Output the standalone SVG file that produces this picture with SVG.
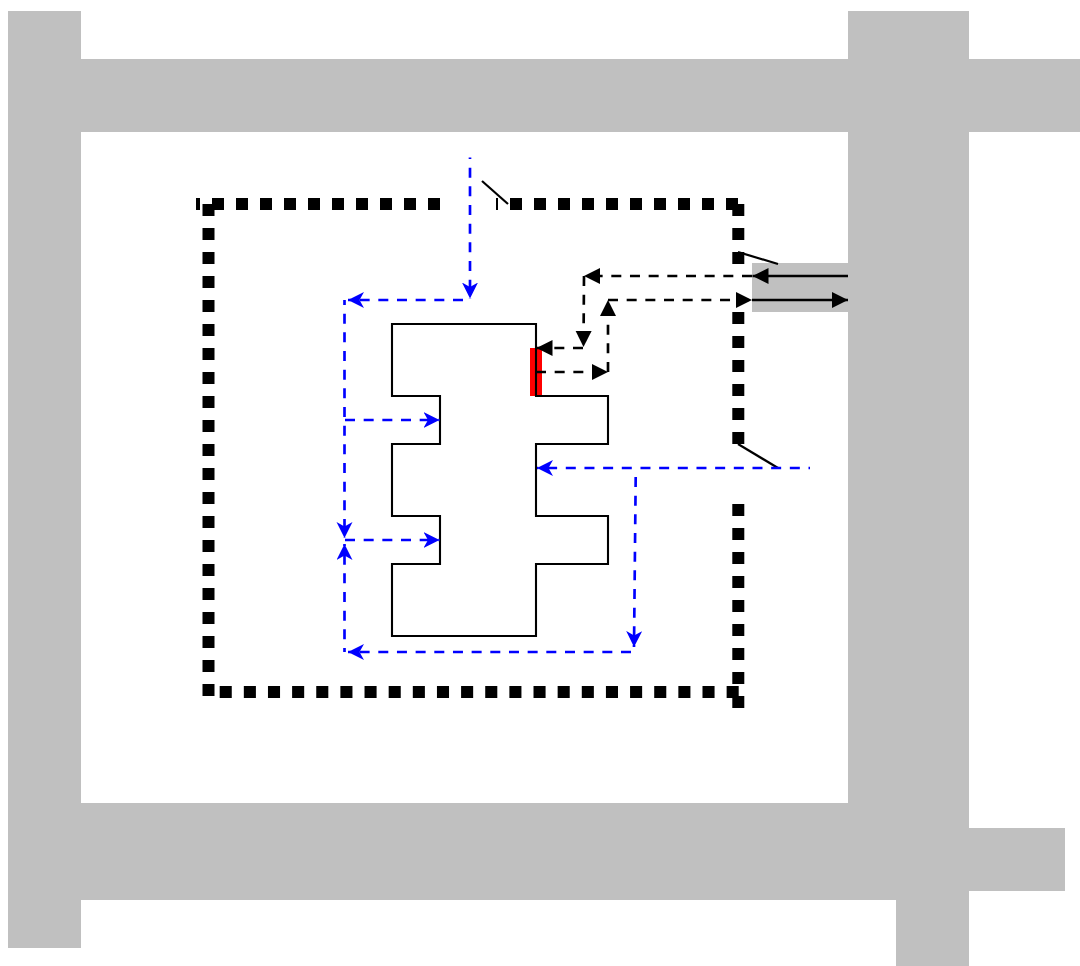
<svg xmlns="http://www.w3.org/2000/svg" width="1080" height="966" viewBox="0 0 1080 966">
<style>
.wall{fill:#c0c0c0;stroke:none}
.zone{fill:none;stroke:#000;stroke-width:12;stroke-dasharray:12 12}
.outline{fill:none;stroke:#000;stroke-width:2.1}
.note{fill:none;stroke:#000;stroke-width:2.2}
.solid{fill:none;stroke:#000;stroke-width:2.67}
.bd{fill:none;stroke:#000;stroke-width:2.67;stroke-dasharray:10 8.67}
.bl{fill:none;stroke:#00f;stroke-width:2.67;stroke-dasharray:10 8.67}
</style>
<defs>
<marker id="blk" markerUnits="userSpaceOnUse" markerWidth="18" markerHeight="18" refX="16" refY="8" orient="auto"><path d="M0 0L16 8L0 16Z" fill="#000"/></marker>
<marker id="blu" markerUnits="userSpaceOnUse" markerWidth="18" markerHeight="18" refX="16" refY="8" orient="auto"><path d="M0 0L16 8L0 16L4.500 8Z" fill="#00f"/></marker>
</defs>
<rect width="1080" height="966" fill="#fff"/>
<g id="walls">
<rect class="wall" x="8" y="11" width="73" height="937"/>
<rect class="wall" x="81" y="59" width="999" height="73"/>
<rect class="wall" x="848" y="11" width="121" height="889"/>
<rect class="wall" x="81" y="803" width="888" height="97"/>
<rect class="wall" x="969" y="828" width="96" height="63"/>
<rect class="wall" x="896" y="900" width="73" height="66"/>
<rect class="wall" x="752" y="263" width="96" height="49"/>
</g>
<g id="zone">
<path class="zone" d="M440 204H196"/>
<path class="zone" d="M738 204H496"/>
<path class="zone" d="M208.500 204V696"/>
<path class="zone" style="stroke-dasharray:12.070 12.070" d="M738.700 692H219"/>
<path class="zone" d="M738.300 204V264"/>
<path class="zone" d="M738.300 312V444"/>
<path class="zone" d="M738.300 504V708"/>
</g>
<g id="room">
<rect x="530" y="348" width="12" height="48" fill="#f00"/>
<path class="outline" d="M392 324H536V396H608V444H536V516H608V564H536V636H392V564H440V516H392V444H440V396H392Z"/>
</g>
<g id="connectors">
<path class="note" d="M482 181L508 204"/>
<path class="note" d="M738 252L778 264"/>
<path class="note" d="M738 444L778 468"/>
<path class="solid" d="M848 276H752.500" marker-end="url(#blk)"/>
<path class="solid" d="M752 300H848" marker-end="url(#blk)"/>
<path class="bd" d="M752 276H584" marker-end="url(#blk)"/>
<path class="bd" d="M584 276L583.500 347" marker-end="url(#blk)"/>
<path class="bd" d="M583 348H536.500" marker-end="url(#blk)"/>
<path class="bd" d="M536 372H608" marker-end="url(#blk)"/>
<path class="bd" d="M608 372V300" marker-end="url(#blk)"/>
<path class="bd" d="M608 300H752" marker-end="url(#blk)"/>
<path class="bl" style="stroke-dashoffset:8.500" d="M470 157.500V298.500" marker-end="url(#blu)"/>
<path class="bl" d="M463 300H348" marker-end="url(#blu)"/>
<path class="bl" style="stroke-dashoffset:5" d="M344.500 300V538" marker-end="url(#blu)"/>
<path class="bl" d="M345 420H439.500" marker-end="url(#blu)"/>
<path class="bl" d="M345 540H439.500" marker-end="url(#blu)"/>
<path class="bl" style="stroke-dashoffset:6" d="M344.500 652V544" marker-end="url(#blu)"/>
<path class="bl" style="stroke-dashoffset:8.500" d="M810 468H537" marker-end="url(#blu)"/>
<path class="bl" d="M635.700 477L634 647" marker-end="url(#blu)"/>
<path class="bl" d="M631 652H348" marker-end="url(#blu)"/>
</g>
</svg>
